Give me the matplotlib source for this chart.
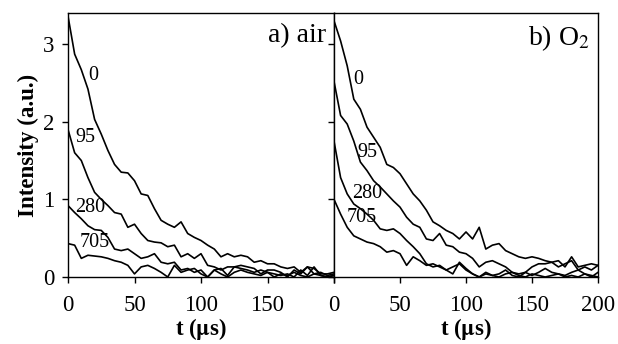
import numpy as np
import matplotlib
matplotlib.use('Agg')
import matplotlib.pyplot as plt

plt.rcParams['font.family'] = ['Liberation Serif', 'DejaVu Serif']
plt.rcParams['mathtext.fontset'] = 'stix'

# time axis (us), 5 us steps
t = np.arange(0, 205, 5)

# panel a) air
air_0 = [3.36, 2.87, 2.67, 2.42, 2.03, 1.84, 1.63, 1.45, 1.35, 1.34, 1.24, 1.07, 1.05, 0.88, 0.73,
         0.68, 0.64, 0.71, 0.56, 0.51, 0.47, 0.41, 0.36, 0.26, 0.30, 0.26, 0.28, 0.26, 0.19, 0.21,
         0.17, 0.17, 0.13, 0.11, 0.13, 0.06, 0.13, 0.11, 0.04, 0.04, 0.06]
air_95 = [1.90, 1.60, 1.50, 1.28, 1.09, 1.00, 0.92, 0.83, 0.81, 0.64, 0.68, 0.56, 0.47, 0.45, 0.44,
          0.39, 0.41, 0.26, 0.30, 0.24, 0.30, 0.15, 0.13, 0.09, 0.13, 0.13, 0.15, 0.13, 0.11, 0.04,
          0.09, 0.09, 0.06, 0.00, 0.09, 0.04, 0.13, 0.04, 0.06, 0.02, 0.04]
air_280 = [0.92, 0.83, 0.75, 0.66, 0.61, 0.60, 0.51, 0.36, 0.34, 0.36, 0.30, 0.24, 0.26, 0.30, 0.19,
           0.17, 0.19, 0.09, 0.11, 0.06, 0.09, 0.00, 0.09, 0.11, 0.02, 0.13, 0.11, 0.09, 0.06, 0.09,
           0.06, 0.04, 0.02, 0.04, 0.00, 0.09, 0.02, 0.13, 0.02, 0.00, 0.02]
air_705 = [0.43, 0.41, 0.24, 0.28, 0.27, 0.26, 0.24, 0.21, 0.19, 0.15, 0.04, 0.13, 0.15, 0.11, 0.06,
           0.00, 0.15, 0.06, 0.09, 0.11, 0.04, 0.00, 0.09, 0.04, 0.00, 0.06, 0.09, 0.06, 0.04, 0.02,
           0.06, 0.00, 0.04, 0.02, 0.06, 0.02, 0.00, 0.04, 0.02, 0.00, 0.02]

# panel b) O2
o2_0 = [3.30, 3.04, 2.72, 2.29, 2.16, 1.93, 1.80, 1.67, 1.45, 1.41, 1.33, 1.20, 1.07, 0.98, 0.86,
        0.71, 0.66, 0.60, 0.56, 0.49, 0.58, 0.49, 0.64, 0.36, 0.41, 0.43, 0.34, 0.30, 0.26, 0.24,
        0.26, 0.24, 0.21, 0.19, 0.21, 0.13, 0.26, 0.13, 0.15, 0.17, 0.15]
o2_95 = [2.52, 2.08, 1.97, 1.75, 1.48, 1.37, 1.24, 1.16, 1.07, 0.98, 0.90, 0.77, 0.68, 0.64, 0.49,
         0.47, 0.56, 0.41, 0.39, 0.32, 0.30, 0.24, 0.13, 0.19, 0.21, 0.17, 0.13, 0.06, 0.04, 0.06,
         0.13, 0.17, 0.17, 0.19, 0.13, 0.17, 0.21, 0.09, 0.13, 0.09, 0.15]
o2_280 = [1.75, 1.28, 1.07, 0.94, 0.88, 0.81, 0.73, 0.62, 0.60, 0.62, 0.56, 0.47, 0.39, 0.30, 0.17,
          0.13, 0.15, 0.09, 0.13, 0.17, 0.09, 0.04, 0.00, 0.06, 0.02, 0.04, 0.09, 0.02, 0.00, 0.06,
          0.02, 0.06, 0.11, 0.06, 0.04, 0.02, 0.06, 0.09, 0.04, 0.00, 0.06]
o2_705 = [1.00, 0.81, 0.64, 0.53, 0.49, 0.45, 0.43, 0.39, 0.32, 0.34, 0.30, 0.15, 0.26, 0.21, 0.15,
          0.17, 0.13, 0.09, 0.04, 0.19, 0.11, 0.04, 0.00, 0.04, 0.02, 0.00, 0.04, 0.06, 0.02, 0.00,
          0.04, 0.02, 0.00, 0.02, 0.04, 0.00, 0.02, 0.00, 0.04, 0.02, 0.00]

curve_labels = ['0', '95', '280', '705']
# label anchor points (t, intensity) for each panel
air_label_pos = [(19, 2.59), (13, 1.80), (17, 0.89), (20, 0.44)]
o2_label_pos = [(18, 2.55), (25, 1.60), (25, 1.08), (21, 0.76)]

fig = plt.figure(figsize=(6.18, 3.44), dpi=100)
ax_a = fig.add_axes([68 / 618, 67 / 344, 266 / 618, 264 / 344])
ax_b = fig.add_axes([334 / 618, 67 / 344, 264 / 618, 264 / 344])

panels = [
    (ax_a, [air_0, air_95, air_280, air_705], air_label_pos, 'a) air'),
    (ax_b, [o2_0, o2_95, o2_280, o2_705], o2_label_pos, r'b) O$_2$'),
]

for ax, curves, lpos, title in panels:
    for y in curves:
        ax.plot(t, y, color='black', lw=1.2)
    for lab, (x, y) in zip(curve_labels, lpos):
        ax.text(x, y, lab, fontsize=14.5, ha='center', va='center')
    ax.set_xlim(0, 200)
    ax.set_ylim(0, 3.4)
    ax.set_xticks([0, 50, 100, 150, 200])
    ax.set_yticks([0, 1, 2, 3])
    ax.tick_params(direction='out', length=4, width=1, labelsize=16.5)
    ax.tick_params(axis='x', pad=9)
    ax.tick_params(axis='y', pad=6)
    ax.text(0.97, 0.96, title, transform=ax.transAxes, ha='right', va='top', fontsize=20)
    ax.set_xlabel(r't ($\mathbf{\mu}$s)', fontsize=16.5, fontweight='bold', labelpad=0)
    for sp in ax.spines.values():
        sp.set_linewidth(1.0)

ax_a.set_xticklabels(['0', '50', '100', '150', ''])
ax_a.set_ylabel('Intensity (a.u.)', fontsize=16.5, fontweight='bold', labelpad=3)
ax_b.set_yticklabels([])

fig.savefig('out.png', dpi=100)
